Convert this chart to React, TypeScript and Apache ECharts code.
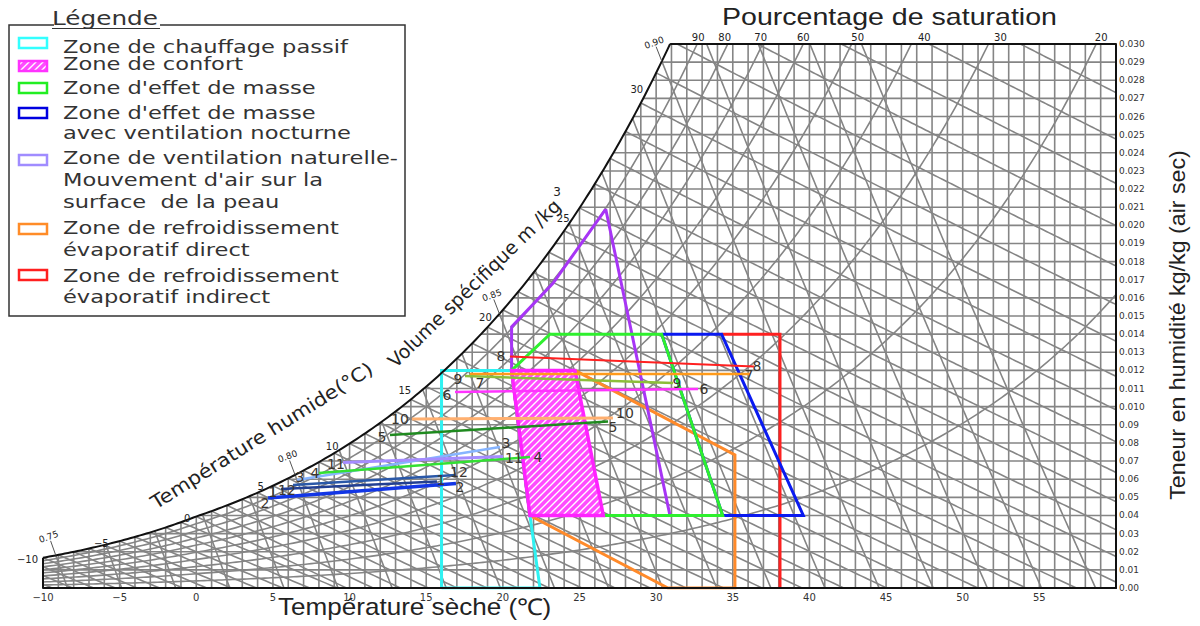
import React, { useEffect, useRef } from "react";
import * as echarts from "echarts";

// ---------------- axis ticks ----------------
const xTickValues = [-10, -5, 0, 5, 10, 15, 20, 25, 30, 35, 40, 45, 50, 55];
const xTickLabels = ["−10", "−5", "0", "5", "10", "15", "20", "25", "30", "35", "40", "45", "50", "55"];
const yTickLabels = [
  "0.00", "0.01", "0.02", "0.03", "0.04", "0.05", "0.06", "0.07", "0.08", "0.09",
  "0.010", "0.011", "0.012", "0.013", "0.014", "0.015", "0.016", "0.017", "0.018", "0.019",
  "0.020", "0.021", "0.022", "0.023", "0.024", "0.025", "0.026", "0.027", "0.028", "0.029", "0.030",
];

// ---------------- psychrometric background ----------------
const satPressure = 97; // kPa used by the chart's saturation curve
const volPressure = 101.325; // kPa used by the specific-volume lines
const W_MAX = 0.03;
const wetBulbLineTemps = [-13, -12, -11, -10, -9, -8, -7, -6, -5, -4, -3, -2, -1, 0, 1, 2, 3, 4, 5, 6, 7, 8, 9, 10, 11, 12, 13, 14, 15, 16, 17, 18, 19, 20, 21, 22, 23, 24, 25, 26, 27, 28, 29, 30, 31, 32, 33, 34, 35, 36, 37];
const volumeLineValues = [0.75, 0.76, 0.77, 0.78, 0.79, 0.8, 0.81, 0.82, 0.83, 0.84, 0.85, 0.86, 0.87, 0.88, 0.89, 0.9, 0.91, 0.92, 0.93, 0.94];
const saturationPercentLines = [10, 20, 30, 40, 50, 60, 70, 80, 90];
const wetBulbLabelTemps = [-10, -5, 0, 5, 10, 15, 20, 25, 30];
const wetBulbLabelTexts = ["−10", "−5", "0", "5", "10", "15", "20", "25", "30"];
const volumeLabelValues = [0.75, 0.8, 0.85, 0.9];
const volumeLabelTexts = ["0.75", "0.80", "0.85", "0.90"];
const percentLabelValues = [90, 80, 70, 60, 50, 40, 30, 20];

// ---------------- zones (dry bulb °C, humidity kg/kg) ----------------
const heatingZoneT = [16.0, 16.0, 20.57, 21.77, 22.42];
const heatingZoneW = [0, 0.012, 0.012, 0.004, 0];
const comfortZoneT = [20.57, 24.7, 26.55, 21.77];
const comfortZoneW = [0.012, 0.012, 0.004, 0.004];
const massZoneT = [20.57, 23.07, 30.36, 34.34, 21.77];
const massZoneW = [0.012, 0.014, 0.014, 0.004, 0.004];
const nightVentZoneT = [30.36, 34.27, 39.6, 34.34];
const nightVentZoneW = [0.014, 0.014, 0.004, 0.004];
const naturalVentZoneT = [26.71, 30.9, 21.77, 20.57, 20.57, 23.27];
const naturalVentZoneW = [0.0209, 0.004, 0.004, 0.012, 0.0144, 0.0168];
const directEvapZoneT = [24.7, 35.14, 35.14, 30.77, 21.77, 20.57];
const directEvapZoneW = [0.012, 0.00734, 0, 0, 0.004, 0.012];
const indirectEvapZoneT = [34.27, 38.08, 38.08];
const indirectEvapZoneW = [0.014, 0.014, 0];

// ---------------- monthly lines ----------------
const monthLabels = ["1", "2", "3", "4", "5", "6", "7", "8", "9", "10", "11", "12"];
const monthStartT = [5.53, 4.68, 6.57, 8.0, 12.64, 16.88, 17.85, 20.46, 17.53, 14.07, 9.57, 6.31];
const monthStartW = [0.00546, 0.00496, 0.00596, 0.00634, 0.00844, 0.01081, 0.0118, 0.01277, 0.01169, 0.00932, 0.00692, 0.00568];
const monthEndT = [15.7, 16.94, 19.81, 21.77, 26.86, 32.73, 36.12, 36.38, 31.1, 27.18, 20.01, 16.94];
const monthEndW = [0.00587, 0.00576, 0.00778, 0.00722, 0.00918, 0.01097, 0.0118, 0.01222, 0.01131, 0.00938, 0.00725, 0.00623];

// styles
const monthColors = ["#213f93", "#1236e6", "#86b4ff", "#33e033", "#1f8a1f", "#ff33ff", "#ff9a1a", "#ff2020", "#8cbf3a", "#ffb070", "#a58cff", "#2a58a8"];
const monthWidths = [2.5, 3.5, 2.5, 2.5, 2.5, 2.5, 2.5, 2, 2.5, 3, 3, 2.5];
const monthLeftOffsets = [[-8, 3], [-3, 5], [3, -3], [-4, 0], [-8, 2], [-8, 3], [10, 9], [-9, 0], [-7, 3], [-12, 0], [-7, 1], [-6, 5]];
const monthRightOffsets = [[4, -2], [4, 3], [6, -4], [8, 0], [5, 5], [6, 0], [-1, 1], [3, 0], [4, 0], [12, -5], [11, 1], [3, -3]];
const wetBulbLabelOffsets = [[-5, 2], [-11, 2], [-6, 2], [-9, 1], [-11, 3], [-15, 4], [-11, 8], [-10, 11], [-13, 17]];
const percentLabelOffsets = [1, -3, -2, 0, 6, 13, 12, 5];

// ---------------- physics helpers ----------------
function pws(T: number) {
  return T >= 0
    ? 0.61094 * Math.exp((17.625 * T) / (T + 243.04))
    : 0.61115 * Math.exp((22.452 * T) / (T + 272.55));
}
function wsat(T: number) {
  const p = pws(T);
  return (0.622 * p) / (satPressure - p);
}
function tsatOf(W: number) {
  let lo = -40, hi = 90;
  for (let i = 0; i < 60; i++) {
    const m = (lo + hi) / 2;
    if (wsat(m) < W) lo = m; else hi = m;
  }
  return (lo + hi) / 2;
}
function wbLine(tw: number, T: number) {
  const ws = wsat(tw);
  if (tw >= 0) return ((2501 - 2.326 * tw) * ws - 1.006 * (T - tw)) / (2501 + 1.86 * T - 4.186 * tw);
  return ((2830 - 0.24 * tw) * ws - 1.006 * (T - tw)) / (2830 + 1.86 * T - 2.1 * tw);
}
function volT(v: number, W: number) {
  return (v * volPressure) / (0.287042 * (1 + 1.6078 * W)) - 273.15;
}
function volSatW(v: number) {
  let lo = 0, hi = 0.05;
  for (let i = 0; i < 60; i++) {
    const m = (lo + hi) / 2;
    if (wsat(volT(v, m)) > m) lo = m; else hi = m;
  }
  return (lo + hi) / 2;
}
function pctTopT(pct: number) {
  let lo = -10, hi = 80;
  for (let i = 0; i < 60; i++) {
    const m = (lo + hi) / 2;
    if ((pct / 100) * wsat(m) < W_MAX) lo = m; else hi = m;
  }
  return (lo + hi) / 2;
}
const inside = (p: number[]) =>
  p[0] >= -10 - 1e-9 && p[0] <= 60 + 1e-9 && p[1] >= -1e-9 && p[1] <= W_MAX + 1e-9 && p[1] <= wsat(p[0]) + 1e-7;

function clipCurve(f: (s: number) => number[], s0: number, s1: number, n = 200) {
  const runs: number[][][] = [];
  let cur: number[][] | null = null;
  let ps = s0;
  let pin = inside(f(s0));
  if (pin) cur = [f(s0)];
  for (let i = 1; i <= n; i++) {
    const s = s0 + ((s1 - s0) * i) / n;
    const p = f(s);
    const now = inside(p);
    if (now && pin) cur!.push(p);
    else if (now && !pin) {
      let a = ps, b = s;
      for (let k = 0; k < 40; k++) { const m = (a + b) / 2; if (inside(f(m))) b = m; else a = m; }
      cur = [f(b)];
      if (b !== s) cur.push(p);
    } else if (!now && pin) {
      let a = ps, b = s;
      for (let k = 0; k < 40; k++) { const m = (a + b) / 2; if (inside(f(m))) a = m; else b = m; }
      cur!.push(f(a));
      if (cur!.length > 1) runs.push(cur!);
      cur = null;
    }
    ps = s;
    pin = now;
  }
  if (cur && cur.length > 1) runs.push(cur);
  return runs;
}

// ---------------- text helpers ----------------
let measureCtx: any = null;
function textWidth(text: string, font: string) {
  if (!measureCtx) measureCtx = document.createElement("canvas").getContext("2d");
  measureCtx.font = font;
  return measureCtx.measureText(text).width;
}
function txtStyle(text: string, font: string, fill: string, align: string) {
  return { text, font, fill, align, textAlign: align, verticalAlign: "middle", textVerticalAlign: "middle" };
}
function stretched(text: string, font: string, target: number, x: number, y: number, opts: any = {}) {
  const sx = target / textWidth(text, font);
  return {
    type: "text", x, y, scaleX: sx, rotation: opts.rotation || 0, z: 100,
    style: txtStyle(text, font, opts.fill || "#222", opts.align || "left"),
  };
}

const hatchTile =
  '<svg xmlns="http://www.w3.org/2000/svg" width="7" height="7"><rect width="7" height="7" fill="#ff4cff"/><path d="M-1,1 L1,-1 M0,7 L7,0 M6,8 L8,6" stroke="#ffffff" stroke-width="1.4"/></svg>';
const hatch: any = {
  image: "data:image/svg+xml;charset=utf-8," + encodeURIComponent(hatchTile),
  repeat: "repeat",
  imageWidth: 7,
  imageHeight: 7,
};

function zoneSeries(T: number[], W: number[], color: string, closed = true) {
  const data = T.map((t, i) => [t, W[i]]);
  if (closed) data.push([T[0], W[0]]);
  return {
    type: "line", data, symbol: "none", silent: true,
    lineStyle: { color, width: 3, join: "miter" }, z: 3,
  };
}

function buildOption() {
  // gray grid
  const grid: number[][][] = [];
  for (let T = -9; T <= 59; T++) grid.push([[T, 0], [T, Math.min(W_MAX, wsat(T))]]);
  for (let k = 1; k <= 29; k++) { const W = k / 1000; grid.push([[tsatOf(W), W], [60, W]]); }
  wetBulbLineTemps.forEach((tw) => grid.push(...clipCurve((T) => [T, wbLine(tw, T)], tw, 62)));
  volumeLineValues.forEach((v) => grid.push(...clipCurve((W) => [volT(v, W), W], 0, 0.032)));
  saturationPercentLines.forEach((p) => grid.push(...clipCurve((T) => [T, (p / 100) * wsat(T)], -10, 60, 300)));

  // black frame
  const tTop = tsatOf(W_MAX);
  const satCurve: number[][] = [];
  for (let i = 0; i <= 200; i++) { const T = -10 + ((tTop + 10) * i) / 200; satCurve.push([T, wsat(T)]); }
  const frame = [satCurve, [[tTop, W_MAX], [60, W_MAX]], [[-10, 0], [-10, wsat(-10)]]];

  const series: any[] = [
    {
      type: "lines", coordinateSystem: "cartesian2d", polyline: true, silent: true, z: 1,
      data: grid.map((c) => ({ coords: c })),
      lineStyle: { color: "#858585", width: 1.6, opacity: 1 },
    },
    zoneSeries(indirectEvapZoneT, indirectEvapZoneW, "#ff2020", false),
    zoneSeries(directEvapZoneT, directEvapZoneW, "#ff8a2a"),
    zoneSeries(naturalVentZoneT, naturalVentZoneW, "#a735f5"),
    zoneSeries(heatingZoneT, heatingZoneW, "#2ff2f2"),
    zoneSeries(nightVentZoneT, nightVentZoneW, "#0a1af0"),
    zoneSeries(massZoneT, massZoneW, "#2ef02e"),
    {
      type: "custom", coordinateSystem: "cartesian2d", clip: false, silent: true, z: 4,
      data: comfortZoneT.map((t, i) => [t, comfortZoneW[i]]),
      encode: { x: 0, y: 1 },
      renderItem: (params: any, api: any) => {
        if (params.dataIndex !== 0) return null;
        const pts = comfortZoneT.map((t, i) => api.coord([t, comfortZoneW[i]]));
        return { type: "polygon", shape: { points: pts }, style: { fill: hatch, stroke: "#ff22ff", lineWidth: 3.5 } };
      },
    },
  ];

  monthLabels.forEach((_, i) => {
    series.push({
      type: "line", symbol: "none", silent: true, z: 5,
      data: [[monthStartT[i], monthStartW[i]], [monthEndT[i], monthEndW[i]]],
      lineStyle: { color: monthColors[i], width: monthWidths[i] },
    });
  });

  series.push({
    type: "lines", coordinateSystem: "cartesian2d", polyline: true, silent: true, z: 6,
    data: frame.map((c) => ({ coords: c })),
    lineStyle: { color: "#111", width: 2, opacity: 1 },
  });

  // month labels
  series.push({
    type: "custom", coordinateSystem: "cartesian2d", clip: false, silent: true, z: 7,
    data: monthLabels.map((_, i) => [monthStartT[i], monthStartW[i], i]),
    encode: { x: 0, y: 1 },
    renderItem: (params: any, api: any) => {
      const i = api.value(2);
      const a = api.coord([monthStartT[i], monthStartW[i]]);
      const b = api.coord([monthEndT[i], monthEndW[i]]);
      const font = '14px "DejaVu Sans"';
      return {
        type: "group",
        children: [
          { type: "text", x: a[0] + monthLeftOffsets[i][0], y: a[1] + monthLeftOffsets[i][1], style: txtStyle(monthLabels[i], font, "#3a3530", "center") },
          { type: "text", x: b[0] + monthRightOffsets[i][0], y: b[1] + monthRightOffsets[i][1], style: txtStyle(monthLabels[i], font, "#3a3530", "center") },
        ],
      };
    },
  });

  // background annotations
  series.push({
    type: "custom", coordinateSystem: "cartesian2d", clip: false, silent: true, z: 7,
    data: [[0, 0]],
    encode: { x: 0, y: 1 },
    renderItem: (params: any, api: any) => {
      const children: any[] = [];
      wetBulbLabelTemps.forEach((t, i) => {
        const p = api.coord([t, wsat(t)]);
        children.push({ type: "text", x: p[0] + wetBulbLabelOffsets[i][0], y: p[1] + wetBulbLabelOffsets[i][1], style: txtStyle(wetBulbLabelTexts[i], '10px "DejaVu Sans"', "#222", "right") });
      });
      volumeLabelValues.forEach((v, i) => {
        const w0 = volSatW(v);
        const w1 = w0 + 0.0008;
        const p0 = api.coord([volT(v, w0), w0]);
        const p1 = api.coord([volT(v, w1), w1]);
        children.push({ type: "line", shape: { x1: p0[0], y1: p0[1], x2: p1[0], y2: p1[1] }, style: { stroke: "#555", lineWidth: 1 } });
        children.push({ type: "text", x: p1[0] - 2, y: p1[1] - 4, rotation: 0.35, style: txtStyle(volumeLabelTexts[i], '9px "DejaVu Sans"', "#222", "center") });
      });
      percentLabelValues.forEach((pct, i) => {
        const p = api.coord([pctTopT(pct), W_MAX]);
        children.push({ type: "text", x: p[0] + percentLabelOffsets[i], y: p[1] - 7, style: txtStyle(String(pct), '10px "DejaVu Sans"', "#222", "center") });
      });
      return { type: "group", children };
    },
  });

  // legend & titles (graphic)
  const legendFont = '18px "DejaVu Sans"';
  const legendScale = 285 / textWidth("Zone de chauffage passif", legendFont);
  const legendLines = [
    ["Zone de chauffage passif", 46.7],
    ["Zone de confort", 64.3],
    ["Zone d'effet de masse", 87.7],
    ["Zone d'effet de masse", 113.3],
    ["avec ventilation nocturne", 133.3],
    ["Zone de ventilation naturelle-", 158.3],
    ["Mouvement d'air sur la", 180],
    ["surface  de la peau", 201.7],
    ["Zone de refroidissement", 228.3],
    ["évaporatif direct", 250],
    ["Zone de refroidissement", 276],
    ["évaporatif indirect", 296.7],
  ];
  const swatches: any[] = [
    [38, "#33ffff", "#fff"],
    [61, "#ff33ff", hatch],
    [83, "#22ee22", "#fff"],
    [108, "#0000e0", "#fff"],
    [155, "#a08cff", "#fff"],
    [224, "#ff8c28", "#fff"],
    [270, "#ff2020", "#fff"],
  ];
  const graphic: any[] = [
    { type: "polyline", z: 100, shape: { points: [[54, 25], [9, 25], [9, 316], [405, 316], [405, 25], [160, 25]] }, style: { stroke: "#333", lineWidth: 1.5, fill: null } },
    stretched("Légende", '20px "DejaVu Sans"', 106, 52, 18, { fill: "#333" }),
    { type: "line", z: 100, shape: { x1: 52, y1: 28.5, x2: 160, y2: 28.5 }, style: { stroke: "#333", lineWidth: 1.2 } },
  ];
  legendLines.forEach(([t, y]) => {
    graphic.push({ type: "text", x: 63, y, scaleX: legendScale, z: 100, style: txtStyle(t as string, legendFont, "#333", "left") });
  });
  swatches.forEach(([y, stroke, fill]) => {
    graphic.push({ type: "rect", z: 100, shape: { x: 19, y, width: 28, height: 10 }, style: { stroke, fill, lineWidth: 2.5 } });
  });
  graphic.push(stretched("Pourcentage de saturation", '23px "Liberation Sans"', 335, 722, 17));
  graphic.push(stretched("Température sèche (℃)", '23px "Liberation Sans"', 274, 278, 607));
  graphic.push(stretched("Teneur en humidité kg/kg (air sec)", '22px "Liberation Sans"', 350, 1178, 325, { align: "center", rotation: Math.PI / 2 }));
  graphic.push(stretched("Température humide(°C)", '19px "DejaVu Sans"', 258, 262, 436, { align: "center", rotation: 0.56 }));
  graphic.push(stretched("Volume spécifique m /kg", '19px "DejaVu Sans"', 232, 474, 283, { align: "center", rotation: 0.77 }));
  graphic.push({ type: "text", x: 557, y: 192, z: 100, style: txtStyle("3", '12px "DejaVu Sans"', "#222", "center") });

  return {
    animation: false,
    backgroundColor: "#fff",
    grid: { left: 43, right: 84, top: 44, bottom: 38 },
    xAxis: {
      type: "value", min: -10, max: 60, interval: 5, z: 10,
      axisLine: { show: true, onZero: false, lineStyle: { color: "#111", width: 2 } },
      axisTick: { show: false }, splitLine: { show: false },
      axisLabel: {
        margin: 4, fontSize: 10, color: "#333", fontFamily: "DejaVu Sans",
        formatter: (v: number) => { const i = xTickValues.indexOf(Math.round(v)); return i >= 0 ? xTickLabels[i] : ""; },
      },
    },
    yAxis: {
      type: "value", position: "right", min: 0, max: W_MAX, interval: 0.001, z: 10,
      axisLine: { show: true, onZero: false, lineStyle: { color: "#111", width: 2 } },
      axisTick: { show: false }, splitLine: { show: false },
      axisLabel: {
        margin: 3, fontSize: 9, color: "#333", fontFamily: "DejaVu Sans",
        formatter: (v: number) => yTickLabels[Math.round(v * 1000)] ?? "",
      },
    },
    series,
    graphic,
  };
}

export default function App() {
  const ref = useRef<HTMLDivElement>(null);
  useEffect(() => {
    const chart = echarts.init(ref.current!, null, { renderer: "svg" });
    chart.setOption(buildOption() as any);
    return () => chart.dispose();
  }, []);
  return <div ref={ref} style={{ position: "fixed", left: 0, top: 0, width: 1200, height: 626, background: "#fff" }} />;
}
